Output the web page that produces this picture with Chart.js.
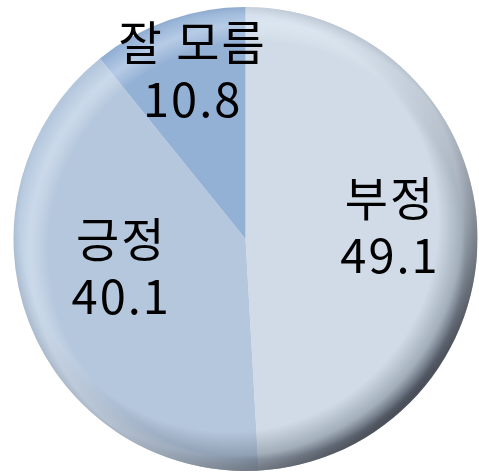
<!DOCTYPE html>
<html><head><meta charset="utf-8">
<script src="https://cdn.jsdelivr.net/npm/chart.js@4"></script>
<style>html,body{margin:0;padding:0;background:#fff}#wrap{width:479px;height:473px}</style>
</head><body><div id="wrap"><canvas id="c"></canvas></div>
<script>
const categories = ['부정', '긍정', '잘 모름'];
const values = [49.1, 40.1, 10.8];
const sliceColors = ['#d0dbe7', '#b5c7dd', '#93b0d5'];
// label placement tweaks (radial fraction, angle offset in degrees)
const labelRadial = [0.625, 0.55, 0.76];
const labelAngle = [-3, 8, 2];

const shadePlugin = {
  id: 'shade',
  afterDatasetsDraw(chart) {
    const meta = chart.getDatasetMeta(0);
    const a = meta.data[0];
    const cx = a.x, cy = a.y, r = a.outerRadius;
    const ctx = chart.ctx;
    ctx.save();
    ctx.beginPath(); ctx.arc(cx, cy, r, 0, Math.PI * 2); ctx.clip();
    let g = ctx.createRadialGradient(cx - r * 0.07, cy - r * 0.07, r * 0.9, cx - r * 0.07, cy - r * 0.07, r * 1.09);
    g.addColorStop(0, 'rgba(60,70,85,0)');
    g.addColorStop(0.55, 'rgba(60,70,85,0.3)');
    g.addColorStop(1, 'rgba(35,40,50,0.9)');
    ctx.fillStyle = g; ctx.fillRect(cx - r, cy - r, 2 * r, 2 * r);
    g = ctx.createRadialGradient(cx + r * 0.05, cy + r * 0.05, r * 0.9, cx + r * 0.05, cy + r * 0.05, r * 1.06);
    g.addColorStop(0, 'rgba(255,255,255,0)');
    g.addColorStop(0.5, 'rgba(235,245,255,0.4)');
    g.addColorStop(1, 'rgba(235,245,255,0)');
    ctx.fillStyle = g; ctx.fillRect(cx - r, cy - r, 2 * r, 2 * r);
    ctx.restore();
  },
  afterDraw(chart) {
    const meta = chart.getDatasetMeta(0);
    const ctx = chart.ctx;
    ctx.save();
    ctx.fillStyle = '#000';
    ctx.font = '47px "Noto Sans CJK KR", sans-serif';
    if ('letterSpacing' in ctx) ctx.letterSpacing = '2px';
    ctx.textAlign = 'center';
    ctx.textBaseline = 'middle';
    meta.data.forEach((arc, i) => {
      const mid = (arc.startAngle + arc.endAngle) / 2 + labelAngle[i] * Math.PI / 180;
      const rr = arc.outerRadius * labelRadial[i];
      const x = arc.x + Math.cos(mid) * rr;
      const y = arc.y + Math.sin(mid) * rr;
      ctx.fillText(categories[i], x, y - 29);
      ctx.fillText(values[i].toFixed(1), x, y + 28);
    });
    ctx.restore();
  }
};

new Chart(document.getElementById('c'), {
  type: 'pie',
  data: {
    labels: categories,
    datasets: [{ data: values, backgroundColor: sliceColors, borderWidth: 0 }]
  },
  options: {
    responsive: true,
    maintainAspectRatio: false,
    animation: false,
    layout: { padding: { left: 13, right: 1, top: 7, bottom: 2 } },
    plugins: { legend: { display: false }, tooltip: { enabled: false } }
  },
  plugins: [shadePlugin]
});
</script></body></html>
